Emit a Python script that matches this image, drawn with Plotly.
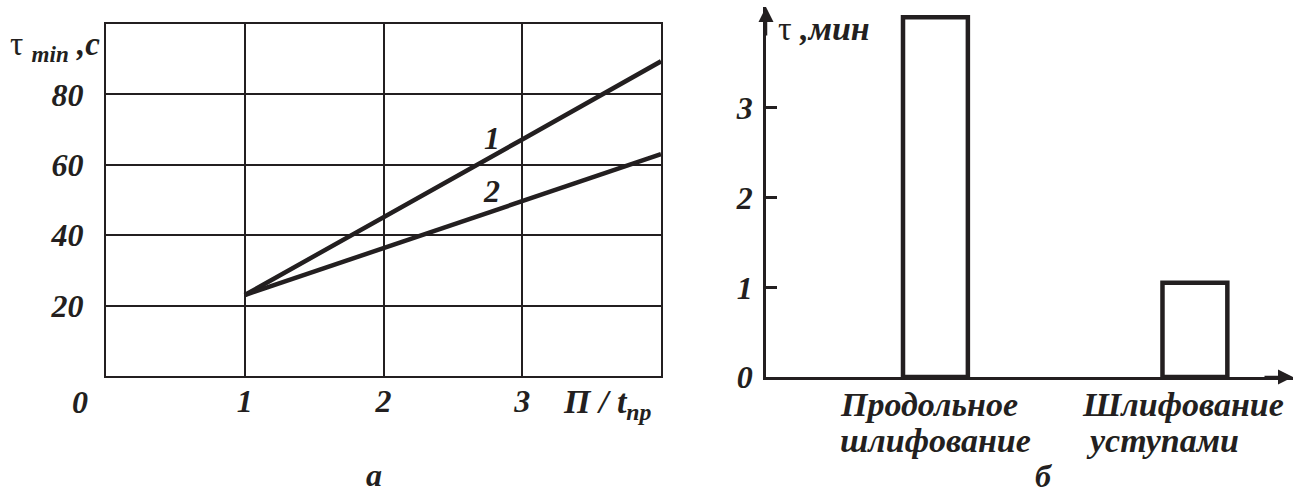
import plotly.graph_objects as go

# ---------------- data ----------------
# Panel "а": τmin (s) vs П / t_пр
x_ratio = [1, 2, 3, 4]
tau_line1 = [23.0, 45.0, 67.2, 89.4]
tau_line2 = [23.0, 36.3, 49.8, 63.0]
line_labels = ["1", "2"]
left_yticks = [20, 40, 60, 80]
left_xticks = [1, 2, 3]

# Panel "б": τ (min) per grinding method
methods = ["Продольное<br>шлифование", "Шлифование<br>уступами"]
tau_min = [4.01, 1.05]
right_yticks = [0, 1, 2, 3]

W, H = 1298, 495
INK = "#231f20"
FONT = "Liberation Serif"


def px_x(p):
    return p / W


def px_y(p):
    return (H - p) / H


def bi(s):
    return "<b><i>" + s + "</i></b>"


fig = go.Figure()

# left panel lines
fig.add_trace(go.Scatter(x=x_ratio, y=tau_line1, mode="lines",
                         line=dict(color=INK, width=4.5), xaxis="x", yaxis="y",
                         showlegend=False, hoverinfo="skip"))
fig.add_trace(go.Scatter(x=x_ratio, y=tau_line2, mode="lines",
                         line=dict(color=INK, width=4.5), xaxis="x", yaxis="y",
                         showlegend=False, hoverinfo="skip"))

# right panel bars
fig.add_trace(go.Bar(x=[0, 1], y=tau_min, width=0.25,
                     marker=dict(color="white", line=dict(color=INK, width=4.5)),
                     xaxis="x2", yaxis="y2", showlegend=False, hoverinfo="skip"))

tickfont = dict(family=FONT, size=32, color=INK)
catfont = dict(family=FONT, size=34, color=INK)

fig.update_layout(
    width=W, height=H,
    margin=dict(l=0, r=0, t=0, b=0, autoexpand=False),
    paper_bgcolor="white", plot_bgcolor="white",
    font=dict(family=FONT, color=INK),
    xaxis=dict(domain=[px_x(106), px_x(661)], range=[0, 4], automargin=False,
               tickvals=left_xticks, ticktext=[bi(str(v)) for v in left_xticks],
               tickfont=tickfont, ticks="", ticklabelstandoff=-4,
               showgrid=True, gridcolor=INK, gridwidth=2, dtick=1, tick0=0,
               showline=True, linecolor=INK, linewidth=2, mirror=True,
               zeroline=False, fixedrange=True),
    yaxis=dict(domain=[px_y(376), px_y(24)], range=[0, 100], automargin=False,
               tickvals=left_yticks, ticktext=[bi(str(v)) for v in left_yticks],
               tickfont=tickfont, ticks="outside", ticklen=14, tickcolor="rgba(0,0,0,0)",
               showgrid=True, gridcolor=INK, gridwidth=2, dtick=20, tick0=0,
               showline=True, linecolor=INK, linewidth=2, mirror=True,
               zeroline=False, fixedrange=True),
    xaxis2=dict(domain=[px_x(766), px_x(1293)], range=[-0.653, 1.378], automargin=False,
                showticklabels=False,
                ticks="", showgrid=False, zeroline=False,
                showline=True, linecolor=INK, linewidth=2.5,
                anchor="y2", fixedrange=True),
    yaxis2=dict(domain=[px_y(377), px_y(7)], range=[0, 4.125], automargin=False,
                tickvals=right_yticks, ticktext=[bi(str(v)) for v in right_yticks],
                tickfont=tickfont, ticks="inside", ticklen=11, tickwidth=2.5,
                tickcolor=INK, ticklabelstandoff=4,
                showgrid=False, zeroline=False,
                showline=True, linecolor=INK, linewidth=2.5,
                anchor="x2", fixedrange=True),
)

ann = []
# left panel annotations
ann.append(dict(x=px_x(80), y=px_y(402), xref="paper", yref="paper",
                text=bi("0"), showarrow=False, font=tickfont,
                xanchor="center", yanchor="middle"))
ann.append(dict(x=px_x(561), y=px_y(404), xref="paper", yref="paper",
                text=bi("П / t<sub>пр</sub>"), showarrow=False,
                font=dict(family=FONT, size=34, color=INK),
                xanchor="left", yanchor="middle"))
ann.append(dict(x=px_x(8), y=px_y(47), xref="paper", yref="paper",
                text="τ " + "<sub>" + bi("min") + "</sub>" + bi(" ,c"), showarrow=False,
                font=dict(family=FONT, size=33, color=INK),
                xanchor="left", yanchor="middle"))
ann.append(dict(x=2.78, y=67.6, xref="x", yref="y", text=bi(line_labels[0]),
                showarrow=False, font=tickfont, xanchor="center", yanchor="middle"))
ann.append(dict(x=2.78, y=52.5, xref="x", yref="y", text=bi(line_labels[1]),
                showarrow=False, font=tickfont, xanchor="center", yanchor="middle"))
ann.append(dict(x=px_x(374), y=px_y(475), xref="paper", yref="paper",
                text=bi("а"), showarrow=False, font=tickfont,
                xanchor="center", yanchor="middle"))

# right panel: category labels (two lines each), under their bars
line_shift = [[-6, 0], [-12, -32]]
for i, m in enumerate(methods):
    for j, part in enumerate(m.split("<br>")):
        ann.append(dict(x=i, y=px_y(405 + 35 * j), xref="x2", yref="paper",
                        text=bi(part), showarrow=False, font=catfont,
                        xanchor="center", yanchor="middle", xshift=line_shift[i][j]))

ann.append(dict(x=px_x(776), y=px_y(28), xref="paper", yref="paper",
                text="τ " + bi(",мин"), showarrow=False,
                font=dict(family=FONT, size=34, color=INK),
                xanchor="left", yanchor="middle"))
ann.append(dict(x=px_x(1044), y=px_y(476), xref="paper", yref="paper",
                text=bi("б"), showarrow=False, font=tickfont,
                xanchor="center", yanchor="middle"))
# axis arrowheads
ann.append(dict(x=-0.653, y=4.125, xref="x2", yref="y2", text="",
                showarrow=True, arrowhead=2, arrowsize=1.2, arrowwidth=2.5,
                arrowcolor=INK, ax=0, ay=30, standoff=0))
ann.append(dict(x=1.378, y=0, xref="x2", yref="y2", text="",
                showarrow=True, arrowhead=2, arrowsize=1.2, arrowwidth=2.5,
                arrowcolor=INK, ax=-30, ay=0, standoff=0))

fig.update_layout(annotations=ann)

fig.write_html("out.html", config={"displayModeBar": False},
               post_script="document.body.style.margin='0';document.body.style.overflow='hidden';")
